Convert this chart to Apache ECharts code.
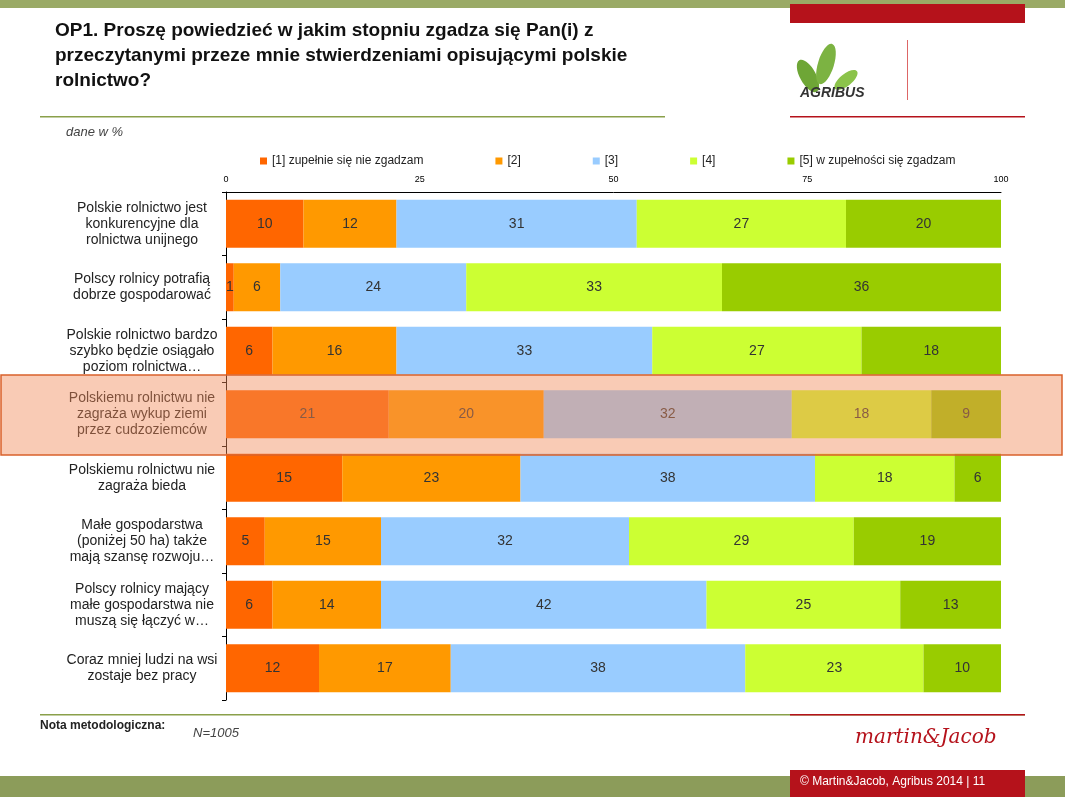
<!DOCTYPE html>
<html>
<head>
<meta charset="utf-8">
<script src="https://cdn.jsdelivr.net/npm/echarts@6/dist/echarts.min.js"></script>
<style>
  html, body { margin: 0; padding: 0; background: #fff; }
  #chart { width: 1065px; height: 797px; }
</style>
</head>
<body>
<div id="chart"></div>
<script>
// dane z wykresu
const categories = [
    'Polskie rolnictwo jest\nkonkurencyjne dla\nrolnictwa unijnego',
    'Polscy rolnicy potrafią\ndobrze gospodarować',
    'Polskie rolnictwo bardzo\nszybko będzie osiągało\npoziom rolnictwa…',
    'Polskiemu rolnictwu nie\nzagraża wykup ziemi\nprzez cudzoziemców',
    'Polskiemu rolnictwu nie\nzagraża bieda',
    'Małe gospodarstwa\n(poniżej 50 ha) także\nmają szansę rozwoju…',
    'Polscy rolnicy mający\nmałe gospodarstwa nie\nmuszą się łączyć w…',
    'Coraz mniej ludzi na wsi\nzostaje bez pracy'
];
const seriesNames = ['[1] zupełnie się nie zgadzam', '[2]', '[3]', '[4]', '[5] w zupełności się zgadzam'];
const s1 = [10, 1, 6, 21, 15, 5, 6, 12];
const s2 = [12, 6, 16, 20, 23, 15, 14, 17];
const s3 = [31, 24, 33, 32, 38, 32, 42, 38];
const s4 = [27, 33, 27, 18, 18, 29, 25, 23];
const s5 = [20, 36, 18, 9, 6, 19, 13, 10];
const xTicks = [0, 25, 50, 75, 100];

const colors = ['#ff6600', '#ff9900', '#99ccff', '#ccff33', '#99cc00'];
const allValues = [s1, s2, s3, s4, s5];

const chart = echarts.init(document.getElementById('chart'));

const option = {
    animation: false,
    textStyle: { fontFamily: 'Arial, "Liberation Sans", sans-serif' },
    color: colors,
    legend: {
        top: 150, left: 255, itemGap: 72,
        itemWidth: 7, itemHeight: 7, icon: 'rect',
        textStyle: { fontSize: 12, color: '#222' },
        data: seriesNames
    },
    grid: { left: 226, right: 64, top: 192, bottom: 97 },
    xAxis: {
        type: 'value', position: 'top', min: 0, max: 100, interval: 25,
        axisLine: { show: true, lineStyle: { color: '#000' } },
        axisTick: { show: false },
        splitLine: { show: false },
        axisLabel: { fontSize: 9, color: '#000', margin: 8,
            formatter: v => xTicks.includes(v) ? String(v) : '' }
    },
    yAxis: {
        type: 'category', inverse: true, data: categories,
        axisLine: { show: true, lineStyle: { color: '#000' } },
        axisTick: { show: true, length: 4, lineStyle: { color: '#000' } },
        axisLabel: { fontSize: 14, color: '#222', align: 'center', margin: 84, lineHeight: 16 }
    },
    series: allValues.map((vals, i) => ({
        name: seriesNames[i],
        type: 'bar', stack: 'total', barWidth: 48,
        data: vals,
        label: { show: true, position: 'inside', fontSize: 14, color: '#333',
            formatter: p => String(p.value) },
        emphasis: { disabled: true }
    })),
    graphic: [
        // górny pasek
        { type: 'rect', shape: { x: 0, y: 0, width: 1065, height: 8 }, style: { fill: '#9aaa66' } },
        { type: 'rect', shape: { x: 790, y: 4, width: 235, height: 19 }, style: { fill: '#b5121b' } },
        { type: 'text', left: 55, top: 18, style: {
            text: 'OP1. Proszę powiedzieć w jakim stopniu zgadza się Pan(i) z\nprzeczytanymi przeze mnie stwierdzeniami opisującymi polskie\nrolnictwo?',
            font: 'bold 19px Arial, "Liberation Sans", sans-serif', fill: '#111', lineHeight: 25 } },
        { type: 'rect', shape: { x: 40, y: 116, width: 625, height: 1.5 }, style: { fill: '#8aa04a' } },
        { type: 'rect', shape: { x: 790, y: 116, width: 235, height: 1.5 }, style: { fill: '#b5121b' } },
        { type: 'rect', shape: { x: 907, y: 40, width: 1, height: 60 }, style: { fill: '#d66' } },
        // logo
        { type: 'ellipse', x: 808, y: 76, rotation: 0.5, shape: { cx: 0, cy: 0, rx: 8, ry: 18 }, style: { fill: '#6ea636' } },
        { type: 'ellipse', x: 826, y: 64, rotation: -0.3, shape: { cx: 0, cy: 0, rx: 8, ry: 21 }, style: { fill: '#7cb342' } },
        { type: 'ellipse', x: 846, y: 80, rotation: -0.9, shape: { cx: 0, cy: 0, rx: 6, ry: 14 }, style: { fill: '#8bc34a' } },
        { type: 'text', left: 800, top: 86, style: { text: 'AGRIBUS', font: 'bold italic 14px Arial', fill: '#333' } },
        { type: 'text', left: 66, top: 126, style: { text: 'dane w %', font: 'italic 13px Arial', fill: '#444' } },
        // wyróżniony wiersz
        { type: 'rect', z: 100, shape: { x: 1, y: 375, width: 1061, height: 80 },
            style: { fill: 'rgba(242,140,90,0.45)', stroke: '#d9622b', lineWidth: 1.5 } },
        // stopka
        { type: 'rect', shape: { x: 40, y: 714, width: 985, height: 1.5 }, style: { fill: '#8aa04a' } },
        { type: 'rect', shape: { x: 790, y: 714, width: 235, height: 1.5 }, style: { fill: '#b5121b' } },
        { type: 'text', left: 40, top: 720, style: { text: 'Nota metodologiczna:', font: 'bold 12px Arial', fill: '#222' } },
        { type: 'text', left: 193, top: 727, style: { text: 'N=1005', font: 'italic 13px Arial', fill: '#444' } },
        { type: 'text', left: 855, top: 728, style: { text: 'martin&Jacob', font: 'italic 20px "DejaVu Serif", serif', fill: '#b5121b' } },
        { type: 'rect', shape: { x: 0, y: 776, width: 1065, height: 21 }, style: { fill: '#8c9c5a' } },
        { type: 'rect', shape: { x: 790, y: 770, width: 235, height: 27 }, style: { fill: '#b5121b' } },
        { type: 'text', left: 800, top: 776, style: { text: '© Martin&Jacob, Agribus 2014 | 11', font: '12px Arial', fill: '#fff' } }
    ]
};

chart.setOption(option);
</script>
</body>
</html>
